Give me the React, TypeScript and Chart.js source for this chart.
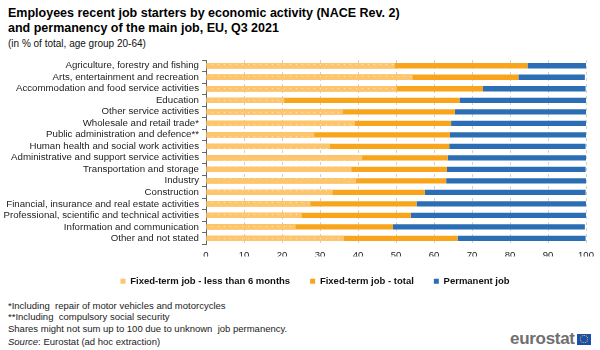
import React, { useEffect, useRef } from "react";
import { Chart, registerables } from "chart.js";

Chart.register(...registerables);

const categories = [
  "Agriculture, forestry and fishing",
  "Arts, entertainment and recreation",
  "Accommodation and food service activities",
  "Education",
  "Other service activities",
  "Wholesale and retail trade*",
  "Public administration and defence**",
  "Human health and social work activities",
  "Administrative and support service activities",
  "Transportation and storage",
  "Industry",
  "Construction",
  "Financial, insurance and real estate activities",
  "Professional, scientific and technical activities",
  "Information and communication",
  "Other and not stated",
];

const lessThan6Months = [49.7, 54.4, 50.2, 20.6, 36.0, 39.2, 28.5, 32.6, 41.1, 38.3, 39.5, 33.3, 27.5, 25.2, 23.6, 36.3];
const fixedTermTotal = [84.6, 82.2, 72.9, 66.7, 65.5, 64.5, 64.2, 64.0, 63.6, 63.4, 63.2, 57.6, 55.4, 53.9, 49.2, 66.2];
const permanentJob = [15.4, 17.5, 27.0, 33.3, 34.5, 35.5, 35.8, 35.9, 36.4, 36.5, 36.8, 42.3, 44.6, 46.1, 50.5, 33.7];

const xTicks = [0, 10, 20, 30, 40, 50, 60, 70, 80, 90, 100];

const LIGHT = "#FDC66E";
const ORANGE = "#F9A51B";
const BLUE = "#2B6EB3";

function makePattern(): CanvasPattern | string {
  const c = document.createElement("canvas");
  c.width = 6;
  c.height = 6;
  const g = c.getContext("2d");
  if (!g) return LIGHT;
  g.fillStyle = LIGHT;
  g.fillRect(0, 0, 6, 6);
  g.fillStyle = "rgba(255,236,200,0.9)";
  g.fillRect(2, 2, 1, 1);
  const p = g.createPattern(c, "repeat");
  return p || LIGHT;
}

const legendShift = {
  id: "legendShift",
  afterLayout(chart: any) {
    if (chart.legend) {
      chart.legend.left += 22;
      chart.legend.right += 22;
    }
  },
};

export default function App() {
  const ref = useRef<HTMLCanvasElement | null>(null);

  useEffect(() => {
    if (!ref.current) return;
    const font = "Arial, 'Liberation Sans', sans-serif";
    const chart = new Chart(ref.current, {
      type: "bar",
      data: {
        labels: categories,
        datasets: [
          {
            label: "Fixed-term job - less than 6 months",
            data: lessThan6Months,
            backgroundColor: makePattern() as any,
            borderWidth: 0,
          },
          {
            label: "Fixed-term job - total",
            data: fixedTermTotal,
            backgroundColor: ORANGE,
            borderWidth: 0,
          },
          {
            label: "Permanent job",
            data: fixedTermTotal.map((t, i) => [t, t + permanentJob[i]]) as any,
            backgroundColor: BLUE,
            borderWidth: 0,
          },
        ],
      },
      options: {
        indexAxis: "y",
        animation: false,
        responsive: false,
        maintainAspectRatio: false,
        layout: { padding: { left: 0, right: 14, top: 10, bottom: 0 } },
        datasets: {
          bar: { barPercentage: 0.46, categoryPercentage: 1 },
        },
        scales: {
          y: {
            stacked: true,
            afterFit: (s: any) => {
              s.width = 206;
            },
            grid: { display: true, drawOnChartArea: false, tickLength: 4, color: "#666", offset: true },
            border: { display: true, color: "#666" },
            ticks: { color: "#222", font: { family: font, size: 9.7 }, padding: 3, autoSkip: false },
          },
          x: {
            stacked: false,
            min: 0,
            max: 100,
            afterBuildTicks: (s: any) => {
              s.ticks = xTicks.map((v) => ({ value: v }));
            },
            afterFit: (s: any) => {
              s.height = s.height - 11;
            },
            grid: { color: "#d0d0d0", drawTicks: false, tickLength: 0 },
            border: { display: false, dash: [3, 3] },
            ticks: { color: "#222", font: { family: font, size: 9.5 }, padding: 6 },
          },
        },
        plugins: {
          legend: {
            position: "bottom",
            labels: {
              boxWidth: 5,
              boxHeight: 5,
              padding: 20,
              color: "#111",
              font: { family: font, size: 9.5, weight: "bold" },
              generateLabels: (ch: any) =>
                ch.data.datasets.map((d: any, i: number) => ({
                  text: d.label,
                  fillStyle: [LIGHT, ORANGE, BLUE][i],
                  strokeStyle: "rgba(0,0,0,0)",
                  lineWidth: 0,
                  datasetIndex: i,
                  fontColor: "#111",
                })),
            },
          },
          tooltip: { enabled: false },
        },
      } as any,
      plugins: [legendShift],
    });
    return () => chart.destroy();
  }, []);

  const font = "Arial, 'Liberation Sans', sans-serif";
  return (
    <div style={{ position: "absolute", left: 0, top: 0, width: 600, height: 350, background: "#fff", fontFamily: font, overflow: "hidden" }}>
      <div style={{ position: "absolute", left: 8, top: 6, fontSize: 12.5, fontWeight: "bold", lineHeight: "15px", color: "#000", whiteSpace: "nowrap" }}>
        Employees recent job starters by economic activity (NACE Rev. 2)
        <br />
        and permanency of the main job, EU, Q3 2021
      </div>
      <div style={{ position: "absolute", left: 8, top: 38, fontSize: 10, color: "#111" }}>(in % of total, age group 20-64)</div>
      <canvas ref={ref} width={600} height={246} style={{ position: "absolute", left: 0, top: 50, width: 600, height: 246 }} />
      <div style={{ position: "absolute", left: 8, top: 300, fontSize: 9.5, lineHeight: "11.3px", color: "#222" }}>
        <div>*Including &nbsp;repair of motor vehicles and motorcycles</div>
        <div>**Including &nbsp;compulsory social security</div>
        <div>Shares might not sum up to 100 due to unknown &nbsp;job permanency.</div>
        <div style={{ marginTop: 2 }}>
          <i>Source</i>: Eurostat (ad hoc extraction)
        </div>
      </div>
      <div style={{ position: "absolute", left: 510, top: 331, display: "flex", alignItems: "center" }}>
        <span style={{ fontSize: 17, fontWeight: "bold", color: "#6f6f6f", letterSpacing: -0.3, lineHeight: "16px" }}>eurostat</span>
        <span style={{ display: "inline-block", width: 14, height: 11, background: "#1A4FB0", marginLeft: 2, position: "relative" }}>
          <span style={{ position: "absolute", left: 3.5, top: 1.5, width: 6, height: 6, borderRadius: "50%", border: "1px dotted #F2D600" }} />
        </span>
      </div>
    </div>
  );
}
